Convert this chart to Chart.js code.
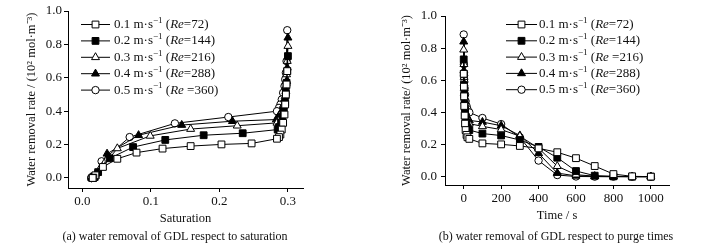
<!DOCTYPE html>
<html>
<head>
<meta charset="utf-8">
<script src="https://cdn.jsdelivr.net/npm/chart.js@4.4.0/dist/chart.umd.min.js"></script>
<style>
  body { margin: 0; background: #fff; }
  #wrap { position: relative; width: 708px; height: 247px; overflow: hidden; font-family: "Liberation Serif", serif; }
  canvas { position: absolute; top: 0; }
  .cap { position: absolute; top: 229px; font-size: 12px; line-height: 15px; color: #111; white-space: nowrap; transform: translateX(-50%); }
</style>
</head>
<body>
<div id="wrap">
  <canvas id="chartA" width="354" height="247" style="left:0"></canvas>
  <canvas id="chartB" width="354" height="247" style="left:354px"></canvas>
  <div class="cap" style="left:175px">(a) water removal of GDL respect to saturation</div>
  <div class="cap" style="left:556px">(b) water removal of GDL respect to purge times</div>
</div>
<script>
// series labels
const speeds = ['0.1', '0.2', '0.3', '0.4', '0.5'];
const reLabelsA = ['=72', '=144', '=216', '=288', ' =360'];
const reLabelsB = ['=72', '=144', ' =216', '=288', '=360'];

// purge time (s), shared by every series
const purgeTime = [0, 1, 2, 3, 5, 7, 10, 15, 20, 30, 100, 200, 300, 400, 500, 600, 700, 800, 900, 1000];

// water removal rate (10^2 mol m^-3)
const rate01 = [0.64, 0.56, 0.50, 0.44, 0.38, 0.33, 0.29, 0.26, 0.245, 0.235, 0.207, 0.201, 0.191, 0.176, 0.152, 0.115, 0.066, 0.016, 0.002, 0.0];
const rate02 = [0.73, 0.64, 0.57, 0.51, 0.45, 0.40, 0.36, 0.33, 0.305, 0.29, 0.268, 0.256, 0.228, 0.185, 0.118, 0.035, 0.006, 0.002, 0.0, 0.0];
const rate03 = [0.79, 0.70, 0.62, 0.55, 0.49, 0.44, 0.40, 0.37, 0.345, 0.33, 0.313, 0.293, 0.252, 0.177, 0.065, 0.012, 0.003, 0.001, 0.0, 0.0];
const rate04 = [0.84, 0.66, 0.58, 0.52, 0.47, 0.43, 0.40, 0.38, 0.36, 0.35, 0.34, 0.317, 0.256, 0.145, 0.022, 0.005, 0.001, 0.0, 0.0, 0.0];
const rate05 = [0.885, 0.70, 0.63, 0.59, 0.55, 0.51, 0.47, 0.44, 0.42, 0.40, 0.365, 0.327, 0.245, 0.10, 0.01, 0.001, 0.0, 0.0, 0.0, 0.0];

// saturation at each point
const sat01 = [0.299, 0.298, 0.297, 0.296, 0.295, 0.293, 0.291, 0.289, 0.287, 0.284, 0.247, 0.203, 0.158, 0.117, 0.079, 0.051, 0.030, 0.019, 0.016, 0.015];
const sat02 = [0.300, 0.299, 0.298, 0.297, 0.296, 0.294, 0.292, 0.290, 0.287, 0.285, 0.234, 0.177, 0.121, 0.074, 0.040, 0.023, 0.018, 0.016, 0.015, 0.015];
const sat03 = [0.300, 0.299, 0.298, 0.297, 0.296, 0.294, 0.292, 0.290, 0.287, 0.284, 0.226, 0.158, 0.099, 0.051, 0.029, 0.019, 0.016, 0.015, 0.015, 0.015];
const sat04 = [0.300, 0.299, 0.298, 0.297, 0.295, 0.293, 0.291, 0.288, 0.285, 0.283, 0.219, 0.145, 0.082, 0.036, 0.019, 0.016, 0.015, 0.014, 0.014, 0.014];
const sat05 = [0.299, 0.298, 0.297, 0.296, 0.295, 0.293, 0.291, 0.289, 0.287, 0.284, 0.213, 0.135, 0.069, 0.028, 0.015, 0.014, 0.013, 0.013, 0.013, 0.013];

// tick labels
const satTicks = [0.0, 0.1, 0.2, 0.3];
const timeTicks = [0, 200, 400, 600, 800, 1000];
const rateTicks = [0.0, 0.2, 0.4, 0.6, 0.8, 1.0];

const rates = [rate01, rate02, rate03, rate04, rate05];
const sats = [sat01, sat02, sat03, sat04, sat05];

const markers = [
    { style: 'rect', fill: '#fff', r: 4.8 },
    { style: 'rect', fill: '#000', r: 4.8 },
    { style: 'triangle', fill: '#fff', r: 4.6 },
    { style: 'triangle', fill: '#000', r: 4.6 },
    { style: 'circle', fill: '#fff', r: 3.7 }
];

const serif = '"Liberation Serif", "Times New Roman", serif';

function drawMarker(ctx, m, x, y) {
    ctx.beginPath();
    if (m.style === 'rect') {
        const s = m.r * Math.SQRT1_2;
        ctx.rect(x - s, y - s, 2 * s, 2 * s);
    } else if (m.style === 'triangle') {
        for (let k = 0; k < 3; k++) {
            const a = k * 2 * Math.PI / 3;
            const px = x + Math.sin(a) * m.r, py = y - Math.cos(a) * m.r;
            if (k === 0) ctx.moveTo(px, py); else ctx.lineTo(px, py);
        }
        ctx.closePath();
    } else {
        ctx.arc(x, y, m.r, 0, Math.PI * 2);
    }
    ctx.fillStyle = m.fill;
    ctx.fill();
    ctx.lineWidth = 1;
    ctx.strokeStyle = '#000';
    ctx.stroke();
}

// legend with line-marker-line symbol, superscript and italic Re
const markerLegend = {
    id: 'markerLegend',
    afterDraw(chart, args, o) {
        const ctx = chart.ctx;
        ctx.save();
        ctx.textBaseline = 'middle';
        o.re.forEach((re, i) => {
            const y = o.y0 + i * o.dy;
            ctx.strokeStyle = '#000';
            ctx.lineWidth = 1;
            ctx.beginPath();
            ctx.moveTo(o.x0, y);
            ctx.lineTo(o.x1, y);
            ctx.stroke();
            drawMarker(ctx, markers[i], (o.x0 + o.x1) / 2, y);

            const parts = [
                [speeds[i] + ' m·s', '13px ' + serif, 0],
                ['\u22121', '9px ' + serif, -4],
                [' (', '13px ' + serif, 0],
                ['Re', 'italic 13px ' + serif, 0],
                [re + ')', '13px ' + serif, 0]
            ];
            let x = o.xt;
            ctx.fillStyle = '#111';
            parts.forEach(p => {
                ctx.font = p[1];
                ctx.fillText(p[0], x, y + p[2]);
                x += ctx.measureText(p[0]).width;
            });
        });
        ctx.restore();
    }
};

function makeChart(id, xs, cfg) {
    const datasets = rates.map((r, i) => ({
        label: speeds[i] + ' m·s⁻¹',
        data: r.map((v, j) => ({ x: xs[i][j], y: v })),
        borderColor: '#000',
        borderWidth: 1,
        backgroundColor: markers[i].fill,
        pointStyle: markers[i].style,
        pointRadius: markers[i].r,
        pointBorderColor: '#000',
        pointBackgroundColor: markers[i].fill,
        pointBorderWidth: 1,
        tension: 0,
        clip: false
    }));

    return new Chart(document.getElementById(id), {
        type: 'line',
        data: { datasets: datasets },
        plugins: [markerLegend],
        options: {
            responsive: false,
            animation: false,
            devicePixelRatio: 1,
            layout: { padding: cfg.padding },
            plugins: {
                legend: { display: false },
                tooltip: { enabled: false },
                markerLegend: cfg.legend
            },
            scales: {
                x: {
                    type: 'linear',
                    min: cfg.xMin,
                    max: cfg.xMax,
                    afterBuildTicks: axis => { axis.ticks = cfg.xTicks.map(v => ({ value: v })); },
                    afterFit: axis => { axis.height = cfg.xHeight; },
                    border: { display: true, color: '#000', width: 1 },
                    grid: { drawOnChartArea: false, drawTicks: true, tickLength: 4, color: '#000' },
                    ticks: {
                        autoSkip: false,
                        maxRotation: 0,
                        padding: 2,
                        color: '#111',
                        font: { family: serif, size: 13 },
                        callback: cfg.xFormat
                    },
                    title: {
                        display: true,
                        text: cfg.xTitle,
                        color: '#111',
                        font: { family: serif, size: 12.5 },
                        padding: { top: 0, bottom: 0 }
                    }
                },
                y: {
                    type: 'linear',
                    min: cfg.yMin,
                    max: 1.0,
                    afterBuildTicks: axis => { axis.ticks = rateTicks.map(v => ({ value: v })); },
                    afterFit: axis => { axis.width = cfg.yWidth; },
                    border: { display: true, color: '#000', width: 1 },
                    grid: { drawOnChartArea: false, drawTicks: true, tickLength: 4, color: '#000' },
                    ticks: {
                        padding: cfg.yTickPad,
                        color: '#111',
                        font: { family: serif, size: 13 },
                        callback: v => v.toFixed(1)
                    },
                    title: {
                        display: true,
                        text: cfg.yTitle,
                        color: '#111',
                        font: { family: serif, size: 12.5 },
                        padding: { top: cfg.yTitlePad, bottom: 0 }
                    }
                }
            }
        }
    });
}

makeChart('chartA', sats, {
    padding: { left: 0, top: 11, right: 51, bottom: 21 },
    xMin: -0.021, xMax: 0.322, yMin: -0.06,
    xTicks: satTicks, xFormat: v => v.toFixed(1),
    xHeight: 38, yWidth: 68, yTickPad: 2, yTitlePad: 24,
    xTitle: 'Saturation',
    yTitle: 'Water removal rate / (10² mol·m⁻³)',
    legend: { x0: 81, x1: 110, xt: 114, y0: 24.5, dy: 16.4, re: reLabelsA }
});

makeChart('chartB', rates.map(() => purgeTime), {
    padding: { left: 0, top: 16, right: 39, bottom: 24 },
    xMin: -100, xMax: 1097, yMin: -0.052,
    xTicks: timeTicks, xFormat: v => String(v),
    xHeight: 38, yWidth: 91, yTickPad: 4, yTitlePad: 45,
    xTitle: 'Time / s',
    yTitle: 'Water removal rate/ (10² mol·m⁻³)',
    legend: { x0: 152, x1: 183, xt: 185, y0: 24.5, dy: 16.3, re: reLabelsB }
});
</script>
</body>
</html>
